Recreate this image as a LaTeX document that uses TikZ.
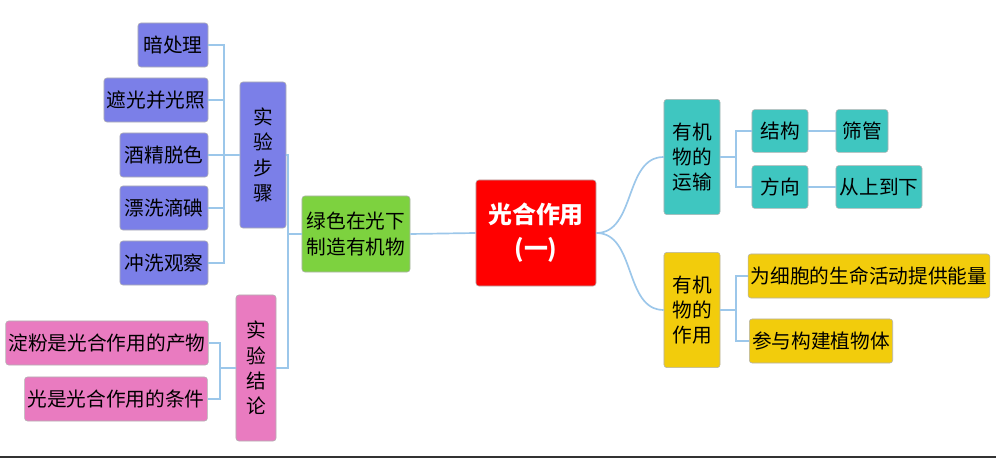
\documentclass[tikz,border=0pt]{standalone}
\usepackage{fontspec}
\setmainfont{Noto Sans CJK SC}
\usetikzlibrary{positioning}
\definecolor{stepc}{HTML}{7B7FE8}
\definecolor{pinkc}{HTML}{E97BC0}
\definecolor{greenc}{HTML}{7DD23F}
\definecolor{tealc}{HTML}{3FC6C0}
\definecolor{yellc}{HTML}{F2CC0C}
\definecolor{linec}{HTML}{9CC7EA}
\tikzset{
  mbox/.style={draw=gray!60, rounded corners=2pt, inner sep=2pt, font=\fontsize{14}{18}\selectfont, align=center, anchor=center},
  stepbox/.style={mbox, fill=stepc, minimum height=1.1cm},
  concbox/.style={mbox, fill=pinkc, minimum height=1.1cm},
  movebox/.style={mbox, fill=tealc, minimum height=1.07cm},
  rolebox/.style={mbox, fill=yellc, minimum height=1.1cm},
  link/.style={draw=linec, line width=1.2pt}
}
\begin{document}
\begin{tikzpicture}[x=0.025cm, y=-0.025cm]
\useasboundingbox (0,0) rectangle (996,459);

% centre
\node[mbox, fill=red, text=white, font=\fontsize{17}{24}\selectfont\bfseries, minimum width=3cm, minimum height=2.65cm] (root) at (536,233) {光合作用\\(一)};
\node[mbox, fill=greenc, minimum width=2.7cm, minimum height=1.9cm] (green) at (356,234) {绿色在光下\\制造有机物};

% steps
\node[stepbox, minimum width=1.15cm, minimum height=3.65cm] (steps) at (263,155) {实\\验\\步\\骤};
\node[stepbox, minimum width=1.75cm] (s1) at (173,45) {暗处理};
\node[stepbox, minimum width=2.6cm] (s2) at (156,100) {遮光并光照};
\node[stepbox, minimum width=2.2cm] (s3) at (164,155) {酒精脱色};
\node[stepbox, minimum width=2.2cm] (s4) at (164,208) {漂洗滴碘};
\node[stepbox, minimum width=2.2cm] (s5) at (164,263) {冲洗观察};

% conclusions
\node[concbox, minimum width=1cm, minimum height=3.65cm] (concl) at (256,368) {实\\验\\结\\论};
\node[concbox, minimum width=4.95cm] (c1) at (107,343) {淀粉是光合作用的产物};
\node[concbox, minimum width=4.5cm] (c2) at (116,399) {光是光合作用的条件};

% right side
\node[movebox, minimum width=1.4cm, minimum height=2.88cm] (move) at (692,157) {有机\\物的\\运输};
\node[movebox, minimum width=1.4cm] (t1) at (780,131) {结构};
\node[movebox, minimum width=1.4cm] (t2) at (780,187) {方向};
\node[movebox, minimum width=1.3cm] (t3) at (862,131) {筛管};
\node[movebox, minimum width=2.15cm] (t4) at (879,187) {从上到下};
\node[rolebox, minimum width=1.4cm, minimum height=2.88cm] (role) at (692,310) {有机\\物的\\作用};
\node[rolebox, minimum width=5.85cm] (u1) at (869,276) {为细胞的生命活动提供能量};
\node[rolebox, minimum width=3.45cm] (u2) at (821,341) {参与构建植物体};

% links
\draw[link] (root.west) -- (green.east);
\draw[link] (green.west) -- ++(-14,0) |- (steps.east);
\draw[link] (green.west) -- ++(-14,0) |- (concl.east);
\foreach \s in {s1,s2,s3,s4,s5}
  \draw[link] (steps.west) -- ++(-16,0) |- (\s.east);
\foreach \c in {c1,c2}
  \draw[link] (concl.west) -- ++(-16,0) |- (\c.east);
\draw[link] (root.east) to[out=0, in=180] (move.west);
\draw[link] (root.east) to[out=0, in=180] (role.west);
\foreach \t in {t1,t2}
  \draw[link] (move.east) -- ++(16,0) |- (\t.west);
\draw[link] (t1.east) -- (t3.west);
\draw[link] (t2.east) -- (t4.west);
\foreach \u in {u1,u2}
  \draw[link] (role.east) -- ++(16,0) |- (\u.west);

\coordinate (bl) at (0,457);
\coordinate (br) at (996,457);
\draw[black!80, line width=1.2pt] (bl) -- (br);
\end{tikzpicture}
\end{document}
